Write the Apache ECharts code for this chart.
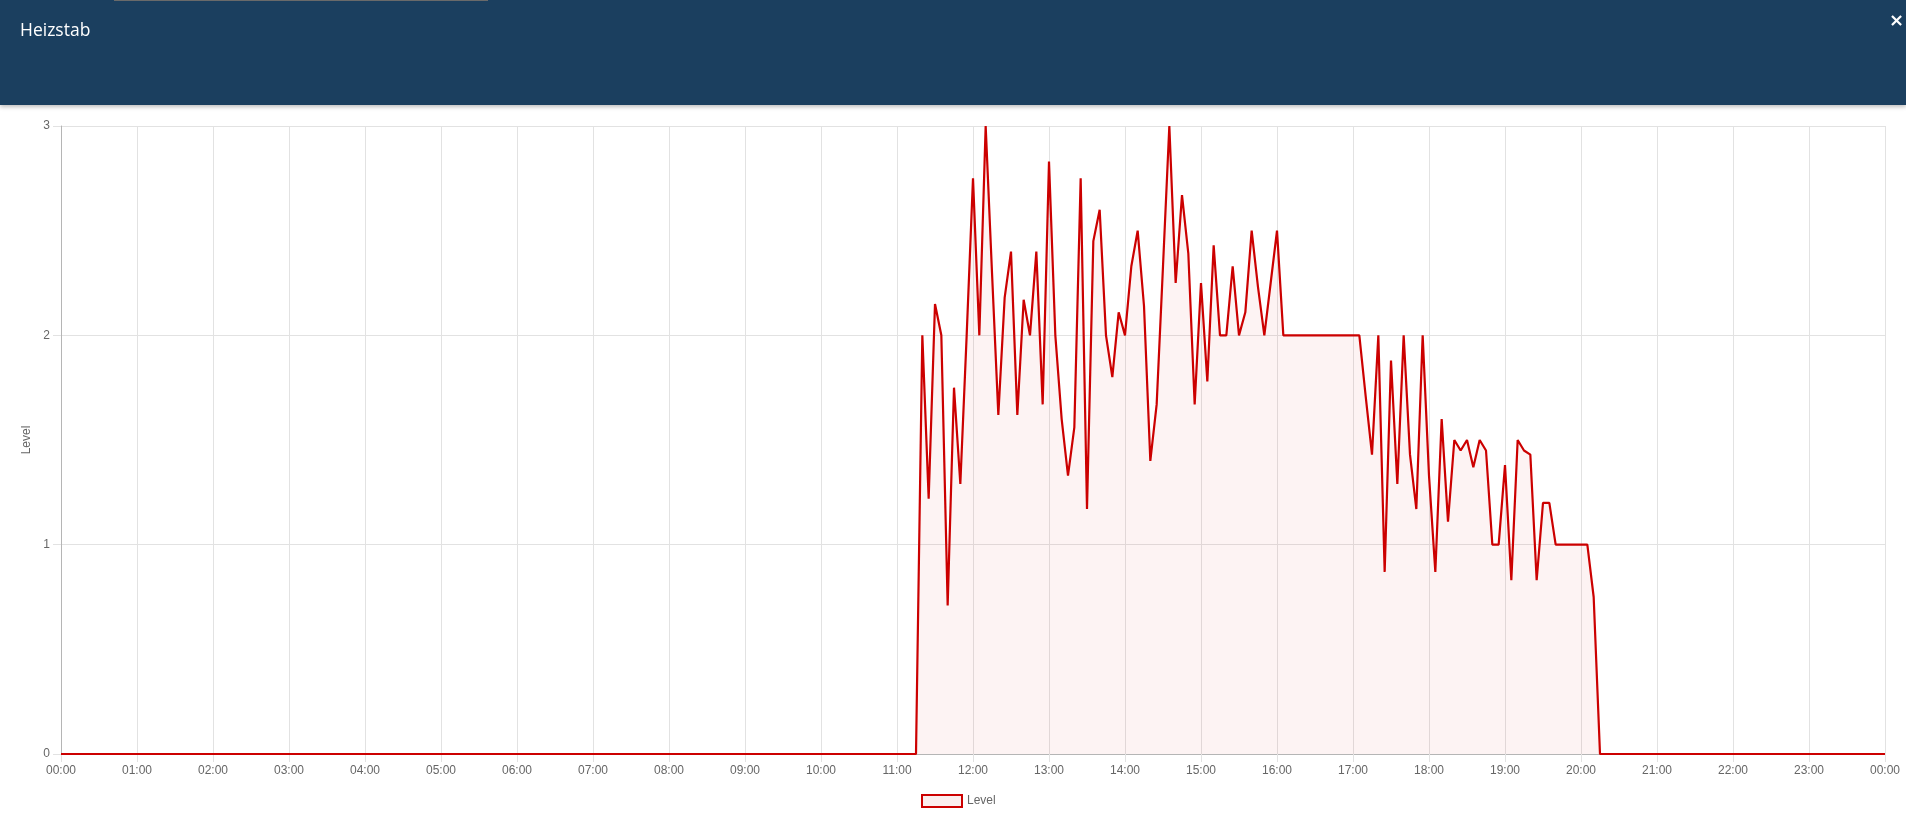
<!DOCTYPE html>
<html>
<head>
<meta charset="utf-8">
<script src="https://cdn.jsdelivr.net/npm/echarts@6/dist/echarts.min.js"></script>
<style>
html,body{margin:0;padding:0;width:1906px;height:823px;overflow:hidden;background:#fff;}
#chart{position:absolute;left:0;top:0;width:1906px;height:823px;}
#header{position:absolute;left:0;top:0;width:1906px;height:105px;background:#1b3f5f;box-shadow:0 2px 4px rgba(0,0,0,0.25);z-index:2;}
#tabline{position:absolute;left:114px;top:0;width:374px;height:1px;background:#6a6a6a;}
#title{position:absolute;left:20px;top:17px;color:#fff;font-family:"Open Sans","Noto Sans",sans-serif;font-size:17.5px;line-height:normal;}
#close{position:absolute;right:2px;top:9px;color:#fff;font-family:"DejaVu Sans",sans-serif;font-size:18px;font-weight:bold;}
</style>
</head>
<body>
<div id="chart"></div>
<div id="header"><div id="tabline"></div><div id="title">Heizstab</div><div id="close">×</div></div>
<script>
const seriesName = "Level";
const times = ["00:00","11:15","11:20","11:25","11:30","11:35","11:40","11:45","11:50","11:55",
"12:00","12:05","12:10","12:15","12:20","12:25","12:30","12:35","12:40","12:45","12:50","12:55",
"13:00","13:05","13:10","13:15","13:20","13:25","13:30","13:35","13:40","13:45","13:50","13:55",
"14:00","14:05","14:10","14:15","14:20","14:25","14:30","14:35","14:40","14:45","14:50","14:55",
"15:00","15:05","15:10","15:15","15:20","15:25","15:30","15:35","15:40","15:45","15:50","15:55",
"16:00","16:05","17:05","17:10","17:15","17:20","17:25","17:30","17:35","17:40","17:45","17:50","17:55",
"18:00","18:05","18:10","18:15","18:20","18:25","18:30","18:35","18:40","18:45","18:50","18:55",
"19:00","19:05","19:10","19:15","19:20","19:25","19:30","19:35","19:40","20:05","20:10","20:15","24:00"];
const values = [0,0,2.0,1.22,2.15,2.0,0.71,1.75,1.29,2.0,
2.75,2.0,3.0,2.3,1.62,2.18,2.4,1.62,2.17,2.0,2.4,1.67,
2.83,2.0,1.6,1.33,1.56,2.75,1.17,2.45,2.6,2.0,1.8,2.11,
2.0,2.33,2.5,2.14,1.4,1.67,2.33,3.0,2.25,2.67,2.39,1.67,
2.25,1.78,2.43,2.0,2.0,2.33,2.0,2.11,2.5,2.23,2.0,2.25,
2.5,2.0,2.0,1.71,1.43,2.0,0.87,1.88,1.29,2.0,1.43,1.17,2.0,
1.33,0.87,1.6,1.11,1.5,1.45,1.5,1.37,1.5,1.45,1.0,1.0,
1.38,0.83,1.5,1.45,1.43,0.83,1.2,1.2,1.0,1.0,0.75,0,0];
const yTicks = [0,1,2,3];

function toMin(t){const p=t.split(':');return (+p[0])*60+(+p[1]);}
function fmt(m){const h=Math.floor(m/60)%24;const mm=Math.round(m%60);return String(h).padStart(2,'0')+':'+String(mm).padStart(2,'0');}
const data = times.map((t,i)=>[toMin(t),values[i]]);

const chart = echarts.init(document.getElementById('chart'), null, {renderer:'canvas'});
const labelFont = {color:'#666', fontFamily:'"Liberation Sans", Arial, sans-serif', fontSize:12};
chart.setOption({
  animation:false,
  grid:{left:61,right:21,top:126,bottom:69,containLabel:false},
  xAxis:{type:'value',min:0,max:1440,interval:60,
    axisLine:{show:true,lineStyle:{color:'#b5b5b5',width:1}},
    axisTick:{show:true,length:8,lineStyle:{color:'#e2e2e2'}},
    axisLabel:Object.assign({margin:11,formatter:v=>fmt(v)},labelFont),
    splitLine:{show:true,lineStyle:{color:'#e2e2e2',width:1}}
  },
  yAxis:{type:'value',min:yTicks[0],max:yTicks[yTicks.length-1],interval:1,
    axisLine:{show:true,lineStyle:{color:'#b5b5b5',width:1}},
    axisTick:{show:true,length:8,lineStyle:{color:'#e2e2e2'}},
    axisLabel:Object.assign({margin:11},labelFont),
    splitLine:{show:true,lineStyle:{color:'#e2e2e2',width:1}}
  },
  graphic:[{type:'text',x:27,y:440,rotation:Math.PI/2,
    style:{text:seriesName,fill:'#666',font:'12px "Liberation Sans", Arial, sans-serif',align:'center',verticalAlign:'middle'}}],
  legend:{show:true,left:916,top:789,icon:'rect',itemWidth:40,itemHeight:12,itemGap:10,
    itemStyle:{color:'#fbeeee',borderColor:'#cc0000',borderWidth:2},
    textStyle:labelFont,data:[seriesName]},
  series:[{name:seriesName,type:'line',data:data,showSymbol:false,symbol:'none',smooth:false,
    lineStyle:{color:'#cc0000',width:2.2},
    itemStyle:{color:'#cc0000'},
    areaStyle:{color:'rgba(204,0,0,0.065)'}
  }]
});
</script>
</body>
</html>
